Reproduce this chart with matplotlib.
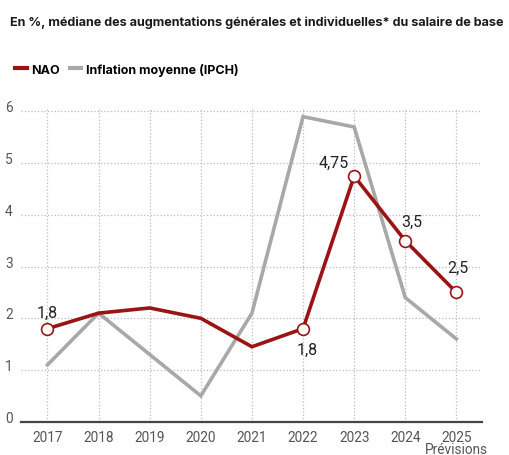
import matplotlib.pyplot as plt
from matplotlib.transforms import ScaledTranslation

# data
years = [2017, 2018, 2019, 2020, 2021, 2022, 2023, 2024, 2025]
nao = [1.8, 2.1, 2.2, 2.0, 1.45, 1.8, 4.75, 3.5, 2.5]
inflation = [1.1, 2.1, 1.3, 0.5, 2.1, 5.9, 5.7, 2.4, 1.6]
labelled = {2017: "1,8", 2022: "1,8", 2023: "4,75", 2024: "3,5", 2025: "2,5"}
label_offsets = {2017: (0, 12), 2022: (3, -15), 2023: (-15, 10), 2024: (5, 14), 2025: (1, 18)}

red = "#9b1414"
grey = "#a8a8a8"
tick_col = "#555555"

plt.rcParams['font.family'] = ['Roboto', 'DejaVu Sans']

fig = plt.figure(figsize=(5.1, 4.56), dpi=100)
ax = fig.add_axes([0.041, 0.073, 0.904, 0.686])

ax.plot(years, inflation, color=grey, lw=2.6, solid_joinstyle='miter', label="Inflation moyenne (IPCH)", zorder=2)
ax.plot(years, nao, color=red, lw=2.6, solid_joinstyle='miter', label="NAO", zorder=3)
mk = [years.index(y) for y in labelled]
ax.plot([years[i] for i in mk], [nao[i] for i in mk], 'o', ms=8.5, mfc='white', mec=red, mew=1.2, zorder=4)

for y, txt in labelled.items():
    ax.annotate(txt, (y, nao[years.index(y)]), xytext=label_offsets[y], textcoords='offset points',
                ha='center', va='center', fontsize=11.5, color='#222222')

ax.set_xlim(2016.48, 2025.5)
ax.set_ylim(0, 6.05)
ax.set_xticks(years)
ax.set_yticks(range(0, 7))
ax.grid(True, color='#bbbbbb', ls=':', lw=0.9)
ax.set_axisbelow(True)
for s in ['top', 'right', 'left']:
    ax.spines[s].set_visible(False)
ax.spines['bottom'].set_color('#444444')
ax.spines['bottom'].set_linewidth(1.6)
ax.tick_params(length=0, labelsize=9.8, labelcolor=tick_col)
ax.tick_params(axis='y', pad=6)
ax.tick_params(axis='x', pad=6)
for lbl in ax.get_yticklabels():
    lbl.set_transform(lbl.get_transform() + ScaledTranslation(0, 4 / 72, fig.dpi_scale_trans))

ax.annotate("Prévisions", (2025, 0), xytext=(0, -20), textcoords='offset points',
            ha='center', va='center', fontsize=9.8, color=tick_col, annotation_clip=False)

title = fig.text(0.02, 0.95, "En %, médiane des augmentations générales et individuelles* du salaire de base",
                 fontsize=9.2, fontweight='bold', color='#1a1a1a', va='center', family=['Inter', 'DejaVu Sans'])
# fit the title to the width it has in the reference (~493 px)
fig.canvas.draw()
w = title.get_window_extent().width
title.set_fontsize(9.2 * 493 / w)

h, l = ax.get_legend_handles_labels()
leg = fig.legend(h[::-1], l[::-1], loc='center left', bbox_to_anchor=(0.008, 0.846), ncol=2, frameon=False,
                 handlelength=0.9, handletextpad=0.4, columnspacing=0.8,
                 prop={'family': ['Inter', 'DejaVu Sans'], 'weight': 'bold', 'size': 9.0})
for line in leg.get_lines():
    line.set_linewidth(3)

fig.savefig("out.png", dpi=100)
